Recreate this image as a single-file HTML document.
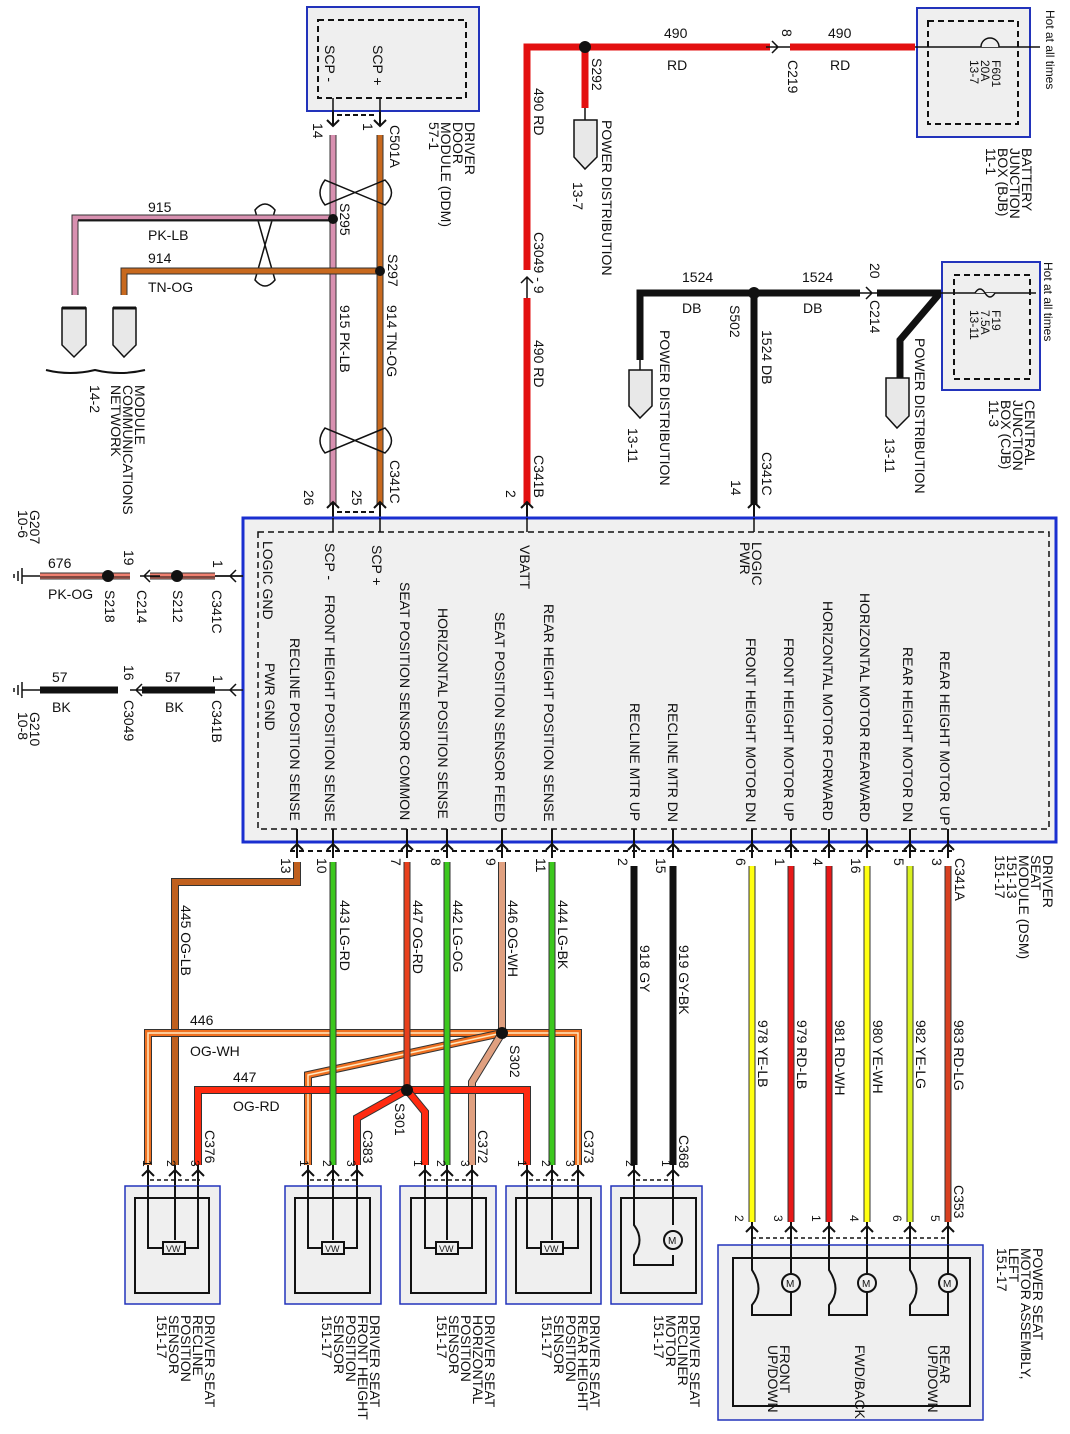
<!DOCTYPE html>
<html><head><meta charset="utf-8"><style>
html,body{margin:0;padding:0;background:#fff;}
svg{display:block;}
text{font-family:"Liberation Sans",sans-serif;font-size:14px;fill:#111;}
.s{font-size:12px;}
</style></head><body>
<svg width="1070" height="1434" viewBox="0 0 1070 1434" xmlns="http://www.w3.org/2000/svg">
<rect width="1070" height="1434" fill="#fff"/>

<!-- DDM box -->
<rect x="307" y="7" width="172" height="104" fill="#efefef" stroke="#2233bb" stroke-width="2"/>
<rect x="318" y="20" width="148" height="78" fill="none" stroke="#111" stroke-width="2" stroke-dasharray="6,4"/>
<text transform="translate(325,45) rotate(90)">SCP -</text>
<text transform="translate(373,45) rotate(90)">SCP +</text>
<text transform="translate(465,122) rotate(90)">DRIVER</text>
<text transform="translate(453,122) rotate(90)">DOOR</text>
<text transform="translate(441,122) rotate(90)">MODULE (DDM)</text>
<text transform="translate(429,122) rotate(90)">57-1</text>
<text transform="translate(390,125) rotate(90)">C501A</text>
<text transform="translate(313,123) rotate(90)">14</text>
<text transform="translate(363,123) rotate(90)">1</text>
<line x1="337" y1="115" x2="375" y2="115" stroke="#111" stroke-dasharray="5,3" stroke-width="2"/>

<!-- SCP wires -->
<line x1="333" y1="98" x2="333" y2="118" stroke="#111" stroke-width="1.5"/>
<line x1="380" y1="98" x2="380" y2="118" stroke="#111" stroke-width="1.5"/>
<path d="M327,120 L333,126 L339,120 M333,112 V126" fill="none" stroke="#111" stroke-width="2"/>
<path d="M374,120 L380,126 L386,120 M380,112 V126" fill="none" stroke="#111" stroke-width="2"/>
<line x1="333" y1="135" x2="333" y2="505" stroke="#333" stroke-width="7"/>
<line x1="333" y1="135" x2="333" y2="505" stroke="#d890b0" stroke-width="5"/>
<line x1="380" y1="135" x2="380" y2="505" stroke="#333" stroke-width="7"/>
<line x1="380" y1="135" x2="380" y2="505" stroke="#c8691e" stroke-width="5"/>
<!-- twists -->
<g fill="none" stroke="#111" stroke-width="1.5">
<path d="M325,180 Q315,193 325,205 L385,180 Q398,193 385,205 Z"/>
<path d="M325,428 Q315,441 325,453 L385,428 Q398,441 385,453 Z"/>
<path d="M255,210 Q265,198 275,210 L255,280 Q265,292 275,280 Z"/>
</g>
<!-- 915 branch -->
<path d="M333,218 H75 V295" fill="none" stroke="#333" stroke-width="7"/>
<path d="M333,218 H75 V295" fill="none" stroke="#d890b0" stroke-width="5"/>
<path d="M333,220 H78" fill="none" stroke="#111" stroke-width="1.5"/>
<circle cx="333" cy="219" r="5" fill="#111"/>
<path d="M380,271 H124 V295" fill="none" stroke="#333" stroke-width="7"/>
<path d="M380,271 H124 V295" fill="none" stroke="#c8691e" stroke-width="5"/>
<circle cx="380" cy="271" r="5" fill="#111"/>
<text x="148" y="212">915</text><text x="148" y="240">PK-LB</text>
<text x="148" y="263">914</text><text x="148" y="292">TN-OG</text>
<text transform="translate(340,203) rotate(90)">S295</text>
<text transform="translate(388,254) rotate(90)">S297</text>
<text transform="translate(340,305) rotate(90)">915  PK-LB</text>
<text transform="translate(387,305) rotate(90)">914  TN-OG</text>
<!-- pentagons -->
<g fill="#e8e8e8" stroke="#111" stroke-width="1.5">
<path d="M62,308 H86 V345 L74,357 L62,345 Z"/>
<path d="M113,308 H136 V345 L124,357 L113,345 Z"/>
</g>
<line x1="62" y1="308" x2="86" y2="308" stroke="#111" stroke-width="3"/>
<line x1="113" y1="308" x2="136" y2="308" stroke="#111" stroke-width="3"/>
<path d="M46,370 Q70,376 95,370 Q120,376 145,370" fill="none" stroke="#111" stroke-width="2"/>
<text transform="translate(135,385) rotate(90)">MODULE</text>
<text transform="translate(123,385) rotate(90)">COMMUNICATIONS</text>
<text transform="translate(111,385) rotate(90)">NETWORK</text>
<text transform="translate(90,385) rotate(90)">14-2</text>
<text transform="translate(390,460) rotate(90)">C341C</text>
<text transform="translate(304,490) rotate(90)">26</text>
<text transform="translate(352,490) rotate(90)">25</text>
<line x1="337" y1="512" x2="375" y2="512" stroke="#111" stroke-dasharray="5,3" stroke-width="2"/>
<path d="M327,508 L333,502 L339,508 M333,502 V518" fill="none" stroke="#111" stroke-width="2"/>
<path d="M374,508 L380,502 L386,508 M380,502 V518" fill="none" stroke="#111" stroke-width="2"/>

<!-- Red 490 -->
<path d="M527,505 V47 H915" fill="none" stroke="#e31010" stroke-width="7"/>
<line x1="527" y1="270" x2="527" y2="298" stroke="#fff" stroke-width="9"/>
<path d="M521,283 L527,277 L533,283 M527,277 V298" fill="none" stroke="#111" stroke-width="1.5"/>
<line x1="770" y1="47" x2="790" y2="47" stroke="#fff" stroke-width="9"/>
<path d="M772,41 L778,47 L772,53 M766,47 H790" fill="none" stroke="#111" stroke-width="1.5"/>
<line x1="585" y1="47" x2="585" y2="108" stroke="#e31010" stroke-width="7"/>
<circle cx="585" cy="47" r="6" fill="#111"/>
<line x1="585" y1="108" x2="585" y2="120" stroke="#111" stroke-width="1.5"/>
<path d="M574,120 H597 V157 L585,169 L574,157 Z" fill="#e8e8e8" stroke="#111" stroke-width="1.5"/>
<text x="664" y="38">490</text><text x="667" y="70">RD</text>
<text x="828" y="38">490</text><text x="830" y="70">RD</text>
<text transform="translate(782,29) rotate(90)">8</text>
<text transform="translate(788,60) rotate(90)">C219</text>
<text transform="translate(592,58) rotate(90)">S292</text>
<text transform="translate(602,120) rotate(90)">POWER DISTRIBUTION</text>
<text transform="translate(573,182) rotate(90)">13-7</text>
<text transform="translate(534,88) rotate(90)">490   RD</text>
<text transform="translate(534,232) rotate(90)">C3049 - 9</text>
<text transform="translate(534,340) rotate(90)">490   RD</text>
<text transform="translate(534,455) rotate(90)">C341B</text>
<text transform="translate(506,490) rotate(90)">2</text>
<path d="M521,508 L527,502 L533,508 M527,502 V518" fill="none" stroke="#111" stroke-width="2"/>

<!-- BJB -->
<rect x="917" y="8" width="113" height="129" fill="#efefef" stroke="#2233bb" stroke-width="2"/>
<rect x="928" y="21" width="90" height="103" fill="none" stroke="#111" stroke-width="2" stroke-dasharray="6,4"/>
<line x1="915" y1="47" x2="1040" y2="47" stroke="#111" stroke-width="1.5"/>
<path d="M981,47 A9,9 0 0 1 999,47" fill="#efefef" stroke="#111" stroke-width="1.5"/>
<text transform="translate(992,60) rotate(90)" class="s">F601</text>
<text transform="translate(981,60) rotate(90)" class="s">20A</text>
<text transform="translate(970,60) rotate(90)" class="s">13-7</text>
<text transform="translate(1046,10) rotate(90)" class="s">Hot at all times</text>
<text transform="translate(1022,148) rotate(90)">BATTERY</text>
<text transform="translate(1010,148) rotate(90)">JUNCTION</text>
<text transform="translate(998,148) rotate(90)">BOX (BJB)</text>
<text transform="translate(986,148) rotate(90)">11-1</text>

<!-- 1524 DB -->
<path d="M640,360 V293 H860" fill="none" stroke="#111" stroke-width="7"/>
<path d="M877,293 H940 L900,340 V378" fill="none" stroke="#111" stroke-width="7"/>
<path d="M866,287 L872,293 L866,299 M860,293 H880" fill="none" stroke="#111" stroke-width="1.5"/>
<line x1="754" y1="293" x2="754" y2="505" stroke="#111" stroke-width="7"/>
<circle cx="754" cy="293" r="6" fill="#111"/>
<line x1="640" y1="360" x2="640" y2="370" stroke="#111" stroke-width="1.5"/>
<path d="M629,370 H652 V406 L640,418 L629,406 Z" fill="#e8e8e8" stroke="#111" stroke-width="1.5"/>
<path d="M886,378 H909 V416 L897,428 L886,416 Z" fill="#e8e8e8" stroke="#111" stroke-width="1.5"/>
<text x="682" y="282">1524</text><text x="682" y="313">DB</text>
<text x="802" y="282">1524</text><text x="803" y="313">DB</text>
<text transform="translate(730,305) rotate(90)">S502</text>
<text transform="translate(762,330) rotate(90)">1524   DB</text>
<text transform="translate(762,452) rotate(90)">C341C</text>
<text transform="translate(731,480) rotate(90)">14</text>
<text transform="translate(870,263) rotate(90)">20</text>
<text transform="translate(870,300) rotate(90)">C214</text>
<text transform="translate(660,330) rotate(90)">POWER DISTRIBUTION</text>
<text transform="translate(628,428) rotate(90)">13-11</text>
<text transform="translate(915,338) rotate(90)">POWER DISTRIBUTION</text>
<text transform="translate(885,438) rotate(90)">13-11</text>
<path d="M748,508 L754,502 L760,508 M754,502 V518" fill="none" stroke="#111" stroke-width="2"/>

<!-- CJB -->
<rect x="942" y="262" width="98" height="128" fill="#efefef" stroke="#2233bb" stroke-width="2"/>
<rect x="954" y="275" width="76" height="104" fill="none" stroke="#111" stroke-width="2" stroke-dasharray="6,4"/>
<line x1="940" y1="293" x2="1036" y2="293" stroke="#111" stroke-width="1.5"/>
<path d="M975,293 Q980,285 985,293 T995,293" fill="#efefef" stroke="#111" stroke-width="1.5"/>
<text transform="translate(992,310) rotate(90)" class="s">F19</text>
<text transform="translate(981,310) rotate(90)" class="s">7.5A</text>
<text transform="translate(970,310) rotate(90)" class="s">13-11</text>
<text transform="translate(1044,262) rotate(90)" class="s">Hot at all times</text>
<text transform="translate(1025,400) rotate(90)">CENTRAL</text>
<text transform="translate(1013,400) rotate(90)">JUNCTION</text>
<text transform="translate(1001,400) rotate(90)">BOX (CJB)</text>
<text transform="translate(989,400) rotate(90)">11-3</text>

<!-- DSM box -->
<rect x="243" y="518" width="813" height="324" fill="#f0f0f0" stroke="#1a2fd0" stroke-width="3"/>
<rect x="258" y="532" width="791" height="297" fill="none" stroke="#111" stroke-width="1.5" stroke-dasharray="6,4"/>
<g>
<text transform="translate(263,541) rotate(90)">LOGIC GND</text>
<text transform="translate(265,663) rotate(90)">PWR GND</text>
<text transform="translate(290,638) rotate(90)">RECLINE POSITION SENSE</text>
<text transform="translate(325,543) rotate(90)">SCP -</text>
<text transform="translate(325,595) rotate(90)">FRONT HEIGHT POSITION SENSE</text>
<text transform="translate(372,545) rotate(90)">SCP +</text>
<text transform="translate(400,582) rotate(90)">SEAT POSITION SENSOR COMMON</text>
<text transform="translate(438,608) rotate(90)">HORIZONTAL POSITION SENSE</text>
<text transform="translate(495,612) rotate(90)">SEAT POSITION SENSOR FEED</text>
<text transform="translate(520,545) rotate(90)">VBATT</text>
<text transform="translate(544,604) rotate(90)">REAR HEIGHT POSITION SENSE</text>
<text transform="translate(630,703) rotate(90)">RECLINE MTR UP</text>
<text transform="translate(668,703) rotate(90)">RECLINE MTR DN</text>
<text transform="translate(752,542) rotate(90)">LOGIC</text>
<text transform="translate(740,542) rotate(90)">PWR</text>
<text transform="translate(746,638) rotate(90)">FRONT HEIGHT MOTOR DN</text>
<text transform="translate(784,638) rotate(90)">FRONT HEIGHT MOTOR UP</text>
<text transform="translate(823,601) rotate(90)">HORIZONTAL MOTOR FORWARD</text>
<text transform="translate(860,593) rotate(90)">HORIZONTAL MOTOR REARWARD</text>
<text transform="translate(903,647) rotate(90)">REAR HEIGHT MOTOR DN</text>
<text transform="translate(940,651) rotate(90)">REAR HEIGHT MOTOR UP</text>
</g>
<g stroke="#111" stroke-width="1.5">
<line x1="333" y1="518" x2="333" y2="532"/><line x1="380" y1="518" x2="380" y2="532"/>
<line x1="527" y1="518" x2="527" y2="532"/><line x1="754" y1="518" x2="754" y2="532"/>
</g>

<!-- Left grounds -->
<line x1="40" y1="576" x2="215" y2="576" stroke="#333" stroke-width="7"/>
<line x1="40" y1="576" x2="215" y2="576" stroke="#f08070" stroke-width="5"/>
<line x1="40" y1="577" x2="215" y2="577" stroke="#111" stroke-width="1"/>
<line x1="130" y1="576" x2="150" y2="576" stroke="#fff" stroke-width="9"/>
<line x1="215" y1="576" x2="243" y2="576" stroke="#111" stroke-width="1.5"/>
<path d="M236,570 L230,576 L236,582 M215,576 H243" fill="none" stroke="#111" stroke-width="1.5"/>
<path d="M150,570 L144,576 L150,582 M140,576 H160" fill="none" stroke="#111" stroke-width="1.5"/>
<circle cx="108" cy="576" r="6" fill="#111"/><circle cx="177" cy="576" r="6" fill="#111"/>
<line x1="22" y1="576" x2="40" y2="576" stroke="#111" stroke-width="1.5"/>
<path d="M22,568 V584 M18,571 V581 M14,574 V578" stroke="#111" stroke-width="1.5"/>
<line x1="40" y1="690" x2="215" y2="690" stroke="#111" stroke-width="7"/>
<line x1="118" y1="690" x2="142" y2="690" stroke="#fff" stroke-width="9"/>
<line x1="215" y1="690" x2="243" y2="690" stroke="#111" stroke-width="1.5"/>
<path d="M236,684 L230,690 L236,696" fill="none" stroke="#111" stroke-width="1.5"/>
<path d="M142,684 L136,690 L142,696 M130,690 H150" fill="none" stroke="#111" stroke-width="1.5"/>
<line x1="22" y1="690" x2="40" y2="690" stroke="#111" stroke-width="1.5"/>
<path d="M22,682 V698 M18,685 V695 M14,688 V692" stroke="#111" stroke-width="1.5"/>
<text x="48" y="568">676</text><text x="48" y="599">PK-OG</text>
<text transform="translate(124,550) rotate(90)">19</text>
<text transform="translate(213,560) rotate(90)">1</text>
<text transform="translate(105,590) rotate(90)">S218</text>
<text transform="translate(137,590) rotate(90)">C214</text>
<text transform="translate(173,590) rotate(90)">S212</text>
<text transform="translate(212,590) rotate(90)">C341C</text>
<text transform="translate(30,510) rotate(90)">G207</text>
<text transform="translate(18,510) rotate(90)">10-6</text>
<text x="52" y="682">57</text><text x="52" y="712">BK</text>
<text x="165" y="682">57</text><text x="165" y="712">BK</text>
<text transform="translate(124,665) rotate(90)">16</text>
<text transform="translate(124,700) rotate(90)">C3049</text>
<text transform="translate(213,675) rotate(90)">1</text>
<text transform="translate(212,700) rotate(90)">C341B</text>
<text transform="translate(30,712) rotate(90)">G210</text>
<text transform="translate(18,712) rotate(90)">10-8</text>

<!-- Bottom pins under DSM -->
<line x1="290" y1="851" x2="955" y2="851" stroke="#111" stroke-width="2" stroke-dasharray="5,4"/>
<g fill="none" stroke="#111" stroke-width="2">
<path d="M291,850 L297,844 L303,850 M297,829 V858"/>
<path d="M327,850 L333,844 L339,850 M333,829 V858"/>
<path d="M401,850 L407,844 L413,850 M407,829 V858"/>
<path d="M441,850 L447,844 L453,850 M447,829 V858"/>
<path d="M496,850 L502,844 L508,850 M502,829 V858"/>
<path d="M546,850 L552,844 L558,850 M552,829 V858"/>
<path d="M628,850 L634,844 L640,850 M634,829 V858"/>
<path d="M667,850 L673,844 L679,850 M673,829 V858"/>
<path d="M746,850 L752,844 L758,850 M752,829 V858"/>
<path d="M785,850 L791,844 L797,850 M791,829 V858"/>
<path d="M823,850 L829,844 L835,850 M829,829 V858"/>
<path d="M861,850 L867,844 L873,850 M867,829 V858"/>
<path d="M904,850 L910,844 L916,850 M910,829 V858"/>
<path d="M942,850 L948,844 L954,850 M948,829 V858"/>
</g>
<g>
<text transform="translate(281,858) rotate(90)">13</text>
<text transform="translate(317,858) rotate(90)">10</text>
<text transform="translate(391,858) rotate(90)">7</text>
<text transform="translate(431,858) rotate(90)">8</text>
<text transform="translate(486,858) rotate(90)">9</text>
<text transform="translate(536,858) rotate(90)">11</text>
<text transform="translate(618,858) rotate(90)">2</text>
<text transform="translate(656,858) rotate(90)">15</text>
<text transform="translate(736,858) rotate(90)">6</text>
<text transform="translate(775,858) rotate(90)">1</text>
<text transform="translate(813,858) rotate(90)">4</text>
<text transform="translate(851,858) rotate(90)">16</text>
<text transform="translate(894,858) rotate(90)">5</text>
<text transform="translate(932,858) rotate(90)">3</text>
<text transform="translate(955,858) rotate(90)">C341A</text>
<text transform="translate(1043,855) rotate(90)">DRIVER</text>
<text transform="translate(1031,855) rotate(90)">SEAT</text>
<text transform="translate(1019,855) rotate(90)">MODULE (DSM)</text>
<text transform="translate(1007,855) rotate(90)">151-13</text>
<text transform="translate(995,855) rotate(90)">151-17</text>
</g>

<!-- Bottom wires -->
<g fill="none">
<path d="M297,862 V882 H175 V1165" stroke="#333" stroke-width="8"/>
<path d="M297,862 V882 H175 V1165" stroke="#c0601e" stroke-width="6"/>
<path d="M148,1165 V1033 H578 V1165" stroke="#333" stroke-width="8"/>
<path d="M148,1165 V1033 H578 V1165" stroke="#f07020" stroke-width="6"/>
<path d="M148,1165 V1033 H578 V1165" stroke="#ffe8c0" stroke-width="1.5"/>
<path d="M502,1033 L308,1075 V1165" stroke="#333" stroke-width="8"/>
<path d="M502,1033 L308,1075 V1165" stroke="#f07020" stroke-width="6"/>
<path d="M502,1033 L308,1075 V1165" stroke="#ffe8c0" stroke-width="1.5"/>
<path d="M502,862 V1033 L472,1082 V1165" stroke="#333" stroke-width="8"/>
<path d="M502,862 V1033 L472,1082 V1165" stroke="#e0a080" stroke-width="6"/>
<path d="M198,1165 V1090 H527 V1165" stroke="#333" stroke-width="8"/>
<path d="M198,1165 V1090 H527 V1165" stroke="#ff2a10" stroke-width="6"/>
<path d="M407,1090 L357,1118 V1165" stroke="#333" stroke-width="8"/>
<path d="M407,1090 L357,1118 V1165" stroke="#ff2a10" stroke-width="6"/>
<path d="M407,1090 L425,1112 V1165" stroke="#333" stroke-width="8"/>
<path d="M407,1090 L425,1112 V1165" stroke="#ff2a10" stroke-width="6"/>
<path d="M407,862 V1090" stroke="#333" stroke-width="7"/>
<path d="M407,862 V1090" stroke="#e8401c" stroke-width="5"/>
<path d="M333,862 V1165" stroke="#333" stroke-width="7"/><path d="M333,862 V1165" stroke="#3cc81e" stroke-width="5"/>
<path d="M447,862 V1165" stroke="#333" stroke-width="7"/><path d="M447,862 V1165" stroke="#3cc81e" stroke-width="5"/>
<path d="M552,862 V1165" stroke="#333" stroke-width="7"/><path d="M552,862 V1165" stroke="#3cc81e" stroke-width="5"/>
<path d="M634,866 V1165" stroke="#111" stroke-width="7"/>
<path d="M673,866 V1165" stroke="#111" stroke-width="7"/>
<path d="M752,866 V1222" stroke="#333" stroke-width="7"/><path d="M752,866 V1222" stroke="#ffff10" stroke-width="5"/>
<path d="M791,866 V1222" stroke="#333" stroke-width="7"/><path d="M791,866 V1222" stroke="#e81818" stroke-width="5"/>
<path d="M829,866 V1222" stroke="#333" stroke-width="7"/><path d="M829,866 V1222" stroke="#e81818" stroke-width="5"/>
<path d="M867,866 V1222" stroke="#333" stroke-width="7"/><path d="M867,866 V1222" stroke="#ffff10" stroke-width="5"/>
<path d="M910,866 V1222" stroke="#333" stroke-width="7"/><path d="M910,866 V1222" stroke="#d8f020" stroke-width="5"/>
<path d="M948,866 V1222" stroke="#333" stroke-width="7"/><path d="M948,866 V1222" stroke="#d84020" stroke-width="5"/>
</g>
<circle cx="502" cy="1033" r="6" fill="#111"/>
<circle cx="407" cy="1090" r="6" fill="#111"/>
<g>
<text transform="translate(181,905) rotate(90)">445   OG-LB</text>
<text transform="translate(340,900) rotate(90)">443   LG-RD</text>
<text transform="translate(413,900) rotate(90)">447   OG-RD</text>
<text transform="translate(453,900) rotate(90)">442   LG-OG</text>
<text transform="translate(508,900) rotate(90)">446   OG-WH</text>
<text transform="translate(558,900) rotate(90)">444   LG-BK</text>
<text transform="translate(640,945) rotate(90)">918   GY</text>
<text transform="translate(679,945) rotate(90)">919   GY-BK</text>
<text transform="translate(758,1020) rotate(90)">978   YE-LB</text>
<text transform="translate(797,1020) rotate(90)">979   RD-LB</text>
<text transform="translate(835,1020) rotate(90)">981   RD-WH</text>
<text transform="translate(873,1020) rotate(90)">980   YE-WH</text>
<text transform="translate(916,1020) rotate(90)">982   YE-LG</text>
<text transform="translate(954,1020) rotate(90)">983   RD-LG</text>
<text x="190" y="1025">446</text><text x="190" y="1056">OG-WH</text>
<text x="233" y="1082">447</text><text x="233" y="1111">OG-RD</text>
<text transform="translate(510,1045) rotate(90)">S302</text>
<text transform="translate(395,1103) rotate(90)">S301</text>
<text transform="translate(205,1130) rotate(90)">C376</text>
<text transform="translate(363,1130) rotate(90)">C383</text>
<text transform="translate(478,1130) rotate(90)">C372</text>
<text transform="translate(584,1130) rotate(90)">C373</text>
<text transform="translate(679,1135) rotate(90)">C368</text>
<text transform="translate(954,1185) rotate(90)">C353</text>
</g>

<!-- sensor connectors & boxes -->
<g fill="none" stroke="#111" stroke-width="2">
<path d="M142,1176 L148,1170 L154,1176 M148,1165 V1250 M169,1176 L175,1170 L181,1176 M175,1165 V1240 M192,1176 L198,1170 L204,1176 M198,1165 V1250"/>
<path d="M302,1176 L308,1170 L314,1176 M308,1165 V1250 M327,1176 L333,1170 L339,1176 M333,1165 V1240 M351,1176 L357,1170 L363,1176 M357,1165 V1250"/>
<path d="M419,1176 L425,1170 L431,1176 M425,1165 V1250 M441,1176 L447,1170 L453,1176 M447,1165 V1240 M466,1176 L472,1170 L478,1176 M472,1165 V1250"/>
<path d="M521,1176 L527,1170 L533,1176 M527,1165 V1250 M546,1176 L552,1170 L558,1176 M552,1165 V1240 M572,1176 L578,1170 L584,1176 M578,1165 V1250"/>
<path d="M628,1176 L634,1170 L640,1176 M634,1165 V1230 M667,1176 L673,1170 L679,1176 M673,1165 V1230"/>
</g>
<g stroke="#111" stroke-width="1.5" stroke-dasharray="4,3">
<line x1="150" y1="1180" x2="200" y2="1180"/><line x1="310" y1="1180" x2="357" y2="1180"/>
<line x1="427" y1="1180" x2="472" y2="1180"/><line x1="529" y1="1180" x2="578" y2="1180"/>
<line x1="636" y1="1180" x2="673" y2="1180"/>
</g>
<g>
<rect x="125" y="1186" width="95" height="118" fill="#efefef" stroke="#2233bb" stroke-width="1.5"/>
<rect x="135" y="1198" width="74" height="95" fill="none" stroke="#111" stroke-width="2"/>
<rect x="285" y="1186" width="96" height="118" fill="#efefef" stroke="#2233bb" stroke-width="1.5"/>
<rect x="295" y="1198" width="75" height="95" fill="none" stroke="#111" stroke-width="2"/>
<rect x="400" y="1186" width="96" height="118" fill="#efefef" stroke="#2233bb" stroke-width="1.5"/>
<rect x="411" y="1198" width="75" height="95" fill="none" stroke="#111" stroke-width="2"/>
<rect x="506" y="1186" width="95" height="118" fill="#efefef" stroke="#2233bb" stroke-width="1.5"/>
<rect x="516" y="1198" width="75" height="95" fill="none" stroke="#111" stroke-width="2"/>
<rect x="611" y="1186" width="91" height="118" fill="#efefef" stroke="#2233bb" stroke-width="1.5"/>
<rect x="621" y="1198" width="75" height="95" fill="none" stroke="#111" stroke-width="2"/>
</g>
<g fill="none" stroke="#111" stroke-width="2">
<path d="M148,1186 V1248 H198 V1186"/><rect x="163" y="1242" width="22" height="12" fill="#efefef"/><path d="M175,1186 V1240"/>
<path d="M308,1186 V1248 H357 V1186"/><rect x="322" y="1242" width="22" height="12" fill="#efefef"/><path d="M333,1186 V1240"/>
<path d="M425,1186 V1248 H472 V1186"/><rect x="436" y="1242" width="22" height="12" fill="#efefef"/><path d="M447,1186 V1240"/>
<path d="M527,1186 V1248 H578 V1186"/><rect x="541" y="1242" width="22" height="12" fill="#efefef"/><path d="M552,1186 V1240"/>
<path d="M634,1186 V1225 Q645,1240 634,1255 V1265 H673 V1255 M673,1186 V1225"/>
<circle cx="673" cy="1240" r="9" fill="#efefef"/>
</g>
<g><text x="166" y="1252" style="font-size:9px">VW</text><text x="325" y="1252" style="font-size:9px">VW</text><text x="439" y="1252" style="font-size:9px">VW</text><text x="544" y="1252" style="font-size:9px">VW</text><text x="668" y="1244" style="font-size:10px">M</text></g>
<g>
<text transform="translate(143,1160) rotate(90)" class="s">1</text><text transform="translate(167,1160) rotate(90)" class="s">2</text><text transform="translate(191,1160) rotate(90)" class="s">3</text>
<text transform="translate(300,1160) rotate(90)" class="s">1</text><text transform="translate(323,1160) rotate(90)" class="s">2</text><text transform="translate(347,1160) rotate(90)" class="s">3</text>
<text transform="translate(414,1160) rotate(90)" class="s">1</text><text transform="translate(437,1160) rotate(90)" class="s">2</text><text transform="translate(461,1160) rotate(90)" class="s">3</text>
<text transform="translate(518,1160) rotate(90)" class="s">1</text><text transform="translate(542,1160) rotate(90)" class="s">2</text><text transform="translate(566,1160) rotate(90)" class="s">3</text>
<text transform="translate(626,1160) rotate(90)" class="s">2</text><text transform="translate(662,1160) rotate(90)" class="s">1</text>
</g>
<g>
<text transform="translate(205,1315) rotate(90)">DRIVER SEAT</text>
<text transform="translate(193,1315) rotate(90)">RECLINE</text>
<text transform="translate(181,1315) rotate(90)">POSITION</text>
<text transform="translate(169,1315) rotate(90)">SENSOR</text>
<text transform="translate(157,1315) rotate(90)">151-17</text>
<text transform="translate(370,1315) rotate(90)">DRIVER SEAT</text>
<text transform="translate(358,1315) rotate(90)">FRONT HEIGHT</text>
<text transform="translate(346,1315) rotate(90)">POSITION</text>
<text transform="translate(334,1315) rotate(90)">SENSOR</text>
<text transform="translate(322,1315) rotate(90)">151-17</text>
<text transform="translate(485,1315) rotate(90)">DRIVER SEAT</text>
<text transform="translate(473,1315) rotate(90)">HORIZONTAL</text>
<text transform="translate(461,1315) rotate(90)">POSITION</text>
<text transform="translate(449,1315) rotate(90)">SENSOR</text>
<text transform="translate(437,1315) rotate(90)">151-17</text>
<text transform="translate(590,1315) rotate(90)">DRIVER SEAT</text>
<text transform="translate(578,1315) rotate(90)">REAR HEIGHT</text>
<text transform="translate(566,1315) rotate(90)">POSITION</text>
<text transform="translate(554,1315) rotate(90)">SENSOR</text>
<text transform="translate(542,1315) rotate(90)">151-17</text>
<text transform="translate(690,1315) rotate(90)">DRIVER SEAT</text>
<text transform="translate(678,1315) rotate(90)">RECLINER</text>
<text transform="translate(666,1315) rotate(90)">MOTOR</text>
<text transform="translate(654,1315) rotate(90)">151-17</text>
</g>

<!-- Motor assembly -->
<g fill="none" stroke="#111" stroke-width="2">
<path d="M746,1232 L752,1226 L758,1232 M752,1222 V1245 M785,1232 L791,1226 L797,1232 M791,1222 V1245 M823,1232 L829,1226 L835,1232 M829,1222 V1245 M861,1232 L867,1226 L873,1232 M867,1222 V1245 M904,1232 L910,1226 L916,1232 M910,1222 V1245 M942,1232 L948,1226 L954,1232 M948,1222 V1245"/>
</g>
<line x1="752" y1="1238" x2="948" y2="1238" stroke="#111" stroke-width="1.5" stroke-dasharray="4,3"/>
<rect x="718" y="1245" width="265" height="175" fill="#efefef" stroke="#2233bb" stroke-width="1.5"/>
<rect x="733" y="1258" width="237" height="148" fill="none" stroke="#111" stroke-width="2"/>
<g fill="none" stroke="#111" stroke-width="2">
<path d="M752,1245 V1270 Q765,1290 752,1305 V1315 H791 V1245"/><circle cx="791" cy="1283" r="9" fill="#efefef"/>
<path d="M829,1245 V1270 Q842,1290 829,1305 V1315 H867 V1245"/><circle cx="867" cy="1283" r="9" fill="#efefef"/>
<path d="M910,1245 V1270 Q923,1290 910,1305 V1315 H948 V1245"/><circle cx="948" cy="1283" r="9" fill="#efefef"/>
</g>
<text x="786" y="1287" style="font-size:10px">M</text><text x="862" y="1287" style="font-size:10px">M</text><text x="943" y="1287" style="font-size:10px">M</text>
<g>
<text transform="translate(735,1215) rotate(90)" class="s">2</text><text transform="translate(774,1215) rotate(90)" class="s">3</text>
<text transform="translate(812,1215) rotate(90)" class="s">1</text><text transform="translate(850,1215) rotate(90)" class="s">4</text>
<text transform="translate(893,1215) rotate(90)" class="s">6</text><text transform="translate(931,1215) rotate(90)" class="s">5</text>
<text transform="translate(780,1345) rotate(90)">FRONT</text>
<text transform="translate(768,1345) rotate(90)">UP/DOWN</text>
<text transform="translate(855,1345) rotate(90)">FWD/BACK</text>
<text transform="translate(940,1345) rotate(90)">REAR</text>
<text transform="translate(928,1345) rotate(90)">UP/DOWN</text>
<text transform="translate(1033,1248) rotate(90)">POWER SEAT</text>
<text transform="translate(1021,1248) rotate(90)">MOTOR ASSEMBLY,</text>
<text transform="translate(1009,1248) rotate(90)">LEFT</text>
<text transform="translate(997,1248) rotate(90)">151-17</text>
</g>
</svg>
</body></html>
